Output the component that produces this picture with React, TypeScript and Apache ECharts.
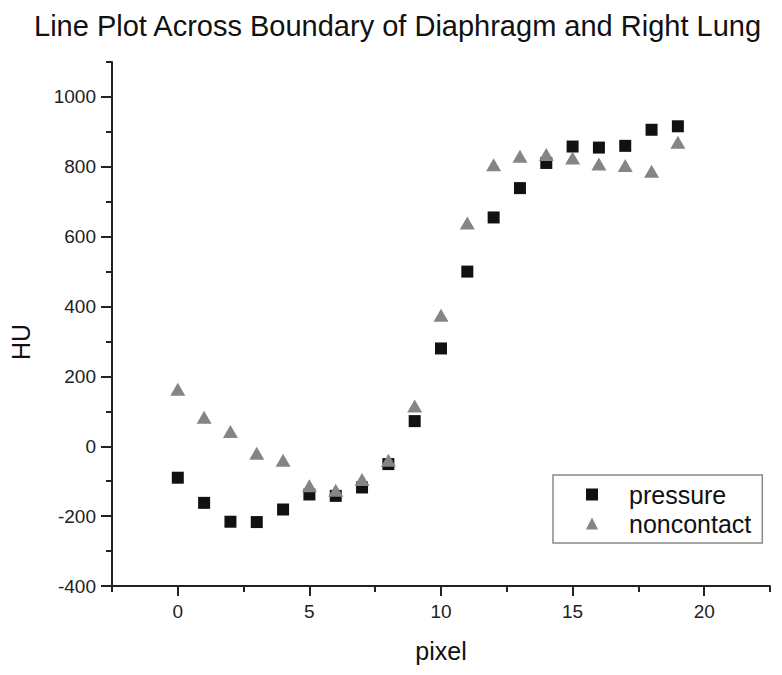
import React, { useEffect, useRef } from "react";
import * as echarts from "echarts";

const pixels = [0, 1, 2, 3, 4, 5, 6, 7, 8, 9, 10, 11, 12, 13, 14, 15, 16, 17, 18, 19];
const pressure = [-90, -162, -216, -217, -181, -138, -142, -118, -51, 72, 280, 500, 655, 739, 811, 858, 855, 860, 906, 916];
const noncontact = [163, 83, 42, -20, -40, -113, -126, -95, -40, 115, 375, 639, 806, 830, 835, 825, 808, 804, 787, 870];

const xMajorTicks = [0, 5, 10, 15, 20];
const xMinorTicks = [-2.5, 2.5, 7.5, 12.5, 17.5, 22.5];
const yMajorTicks = [-400, -200, 0, 200, 400, 600, 800, 1000];
const yMinorTicks = [-300, -100, 100, 300, 500, 700, 900, 1100];

const FONT = "'Liberation Sans', Arial, sans-serif";
const AXIS_COLOR = "#222";

export default function App() {
  const ref = useRef<HTMLDivElement>(null);

  useEffect(() => {
    if (!ref.current) return;
    const chart = echarts.init(ref.current, null, { renderer: "svg" });
    const xBase = { type: "value", min: -2.5, max: 22.5, gridIndex: 0, position: "bottom" };
    const yBase = { type: "value", min: -400, max: 1100, gridIndex: 0, position: "left" };
    const labelStyle = {
      show: true,
      margin: 16,
      fontFamily: FONT,
      fontSize: 19,
      color: "#222",
      formatter: (v: number) => String(v),
    };
    chart.setOption({
      animation: false,
      backgroundColor: "#fff",
      textStyle: { fontFamily: FONT },
      title: {
        text: "Line Plot Across Boundary of Diaphragm and Right Lung",
        left: 34,
        top: 11,
        padding: 0,
        textStyle: { fontFamily: FONT, fontSize: 29, fontWeight: "normal", color: "#111" },
      },
      grid: { left: 111, right: 12, top: 62, bottom: 89, containLabel: false },
      legend: {
        left: 553,
        top: 475,
        orient: "vertical",
        padding: [7, 11, 7, 33],
        itemGap: 4,
        itemWidth: 12,
        itemHeight: 12,
        borderColor: "#888",
        borderWidth: 1.5,
        textStyle: { fontFamily: FONT, fontSize: 25, color: "#111", padding: [0, 0, 0, 26] },
        data: ["pressure", "noncontact"],
      },
      xAxis: [
        {
          ...xBase,
          name: "pixel",
          nameLocation: "middle",
          nameGap: 52,
          nameTextStyle: { fontFamily: FONT, fontSize: 25, color: "#111" },
          axisLine: { show: true, onZero: false, lineStyle: { color: AXIS_COLOR, width: 2 } },
          axisTick: { show: true, inside: false, length: 10, customValues: xMajorTicks, lineStyle: { color: AXIS_COLOR, width: 2 } },
          axisLabel: { ...labelStyle, customValues: xMajorTicks },
          splitLine: { show: false },
        },
        {
          ...xBase,
          axisLine: { show: false, onZero: false },
          axisTick: { show: true, inside: false, length: 6, customValues: xMinorTicks, lineStyle: { color: AXIS_COLOR, width: 2 } },
          axisLabel: { show: false },
          splitLine: { show: false },
        },
      ],
      yAxis: [
        {
          ...yBase,
          name: "HU",
          nameLocation: "middle",
          nameGap: 79,
          nameTextStyle: { fontFamily: FONT, fontSize: 25, color: "#111", padding: [0, 36, 0, 0] },
          axisLine: { show: true, onZero: false, lineStyle: { color: AXIS_COLOR, width: 2 } },
          axisTick: { show: true, inside: false, length: 11, customValues: yMajorTicks, lineStyle: { color: AXIS_COLOR, width: 2 } },
          axisLabel: { ...labelStyle, customValues: yMajorTicks },
          splitLine: { show: false },
        },
        {
          ...yBase,
          axisLine: { show: false, onZero: false },
          axisTick: { show: true, inside: false, length: 6, customValues: yMinorTicks, lineStyle: { color: AXIS_COLOR, width: 2 } },
          axisLabel: { show: false },
          splitLine: { show: false },
        },
      ],
      series: [
        {
          name: "pressure",
          type: "scatter",
          xAxisIndex: 0,
          yAxisIndex: 0,
          symbol: "rect",
          symbolSize: 12,
          itemStyle: { color: "#111", opacity: 1 },
          data: pixels.map((p, i) => [p, pressure[i]]),
          z: 2,
        },
        {
          name: "noncontact",
          type: "scatter",
          xAxisIndex: 0,
          yAxisIndex: 0,
          symbol: "triangle",
          symbolSize: [15, 13],
          itemStyle: { color: "#858585", opacity: 1 },
          data: pixels.map((p, i) => [p, noncontact[i]]),
          z: 3,
        },
      ],
    });
    return () => chart.dispose();
  }, []);

  return (
    <div
      ref={ref}
      style={{ position: "fixed", left: 0, top: 0, width: 782, height: 675, background: "#fff" }}
    />
  );
}
